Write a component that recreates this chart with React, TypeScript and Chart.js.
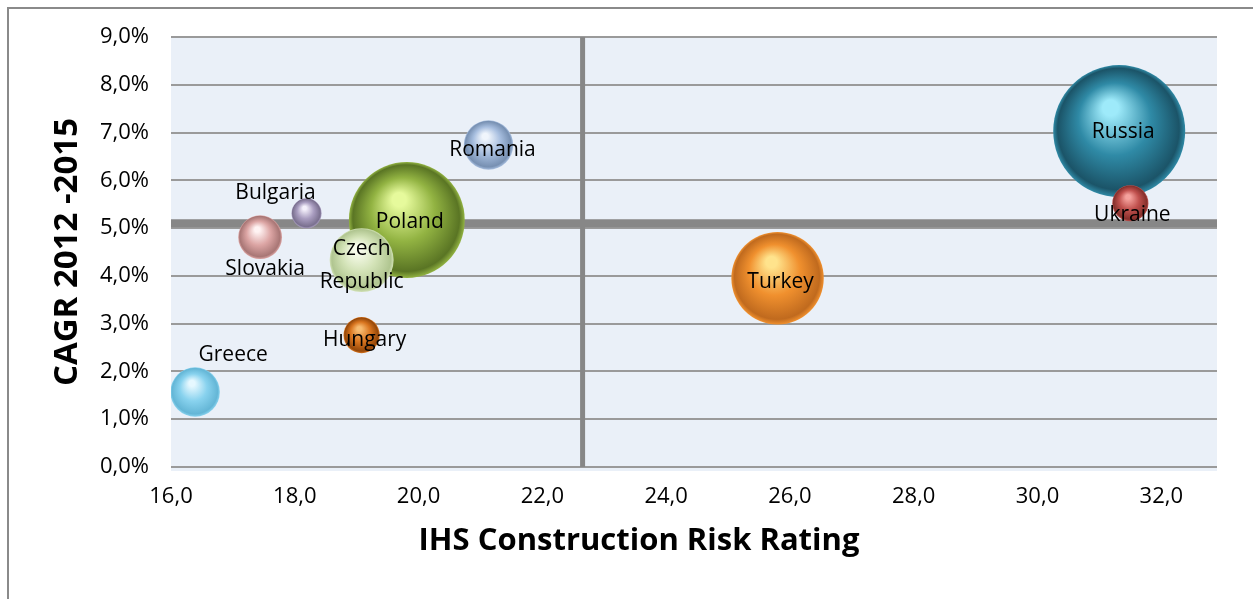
import React, { useEffect, useRef } from "react";
import { Chart, registerables } from "chart.js";

Chart.register(...registerables);

// ---- data ----
const countries = ["Russia", "Ukraine", "Turkey", "Poland", "Czech\nRepublic", "Slovakia", "Bulgaria", "Hungary", "Greece", "Romania"];
const riskRating = [31.32, 31.5, 25.8, 19.81, 19.08, 17.44, 18.19, 19.08, 16.39, 21.13];
const cagr = [7.03, 5.52, 3.95, 5.17, 4.33, 4.81, 5.31, 2.76, 1.57, 6.74];
const marketSize = [100, 7.5, 49, 77, 23.5, 11, 5.2, 7.5, 14, 14];
const riskThreshold = 22.65;
const cagrThreshold = 5.1;
const xTicks = [16, 18, 20, 22, 24, 26, 28, 30, 32];
const yTicks = [0, 1, 2, 3, 4, 5, 6, 7, 8, 9];
const xTitle = "IHS Construction Risk Rating";
const yTitle = "CAGR 2012 -2015";

// ---- styles ----
const palette = [
  { light: "#9eeafa", base: "#2f8aa6", dark: "#1b5468" },
  { light: "#f5a29d", base: "#c0504d", dark: "#85302c" },
  { light: "#ffe38c", base: "#f0902e", dark: "#c06a1e" },
  { light: "#e6fa9c", base: "#92b342", dark: "#5a7524" },
  { light: "#f8fcec", base: "#d2e2b6", dark: "#b0c590" },
  { light: "#fff3f3", base: "#dca5a4", dark: "#a87675" },
  { light: "#f4f0fb", base: "#a99dc0", dark: "#7a708f" },
  { light: "#f7bb70", base: "#d9751f", dark: "#95480a" },
  { light: "#e6f8ff", base: "#88d2ee", dark: "#64b6d6" },
  { light: "#f0f5fc", base: "#a7bedf", dark: "#7790b2" },
];
const labelOffsets = [
  [4, 1], [2, 12], [3, 4], [3, 2], [0, 5], [5, 32], [-31, -20], [3, 5], [38, -37], [4, 5],
];
const maxRadius = 66;
const radiusOf = (i: number) => maxRadius * Math.sqrt(marketSize[i] / 100);
const FONT = "'Open Sans', 'Noto Sans', sans-serif";

const bgPlugin = {
  id: "plotBg",
  beforeDraw(chart: any) {
    const { ctx, chartArea } = chart;
    ctx.save();
    ctx.fillStyle = "#eaf0f8";
    ctx.fillRect(chartArea.left, chartArea.top, chartArea.right - chartArea.left, chartArea.bottom - chartArea.top + 4);
    ctx.restore();
  },
};

const xTitlePlugin = {
  id: "xTitle",
  afterDraw(chart: any) {
    const { ctx } = chart;
    ctx.save();
    ctx.font = `bold 31px ${FONT}`;
    ctx.fillStyle = "#000";
    ctx.textAlign = "center";
    ctx.textBaseline = "middle";
    ctx.fillText(xTitle, 639, 541);
    ctx.restore();
  },
};

const labelPlugin = {
  id: "bubbleLabels",
  afterDatasetsDraw(chart: any) {
    const meta = chart.getDatasetMeta(2);
    const { ctx } = chart;
    ctx.save();
    ctx.font = `21px ${FONT}`;
    ctx.fillStyle = "#000";
    ctx.textAlign = "center";
    ctx.textBaseline = "middle";
    meta.data.forEach((el: any, i: number) => {
      const lines = countries[i].split("\n");
      const lh = 33;
      const cx = el.x + labelOffsets[i][0];
      const cy = el.y + labelOffsets[i][1];
      lines.forEach((ln, k) => {
        ctx.fillText(ln, cx, cy + (k - (lines.length - 1) / 2) * lh);
      });
    });
    ctx.restore();
  },
};

export default function App() {
  const ref = useRef<HTMLCanvasElement>(null);
  useEffect(() => {
    if (!ref.current) return;
    const chart = new Chart(ref.current, {
      type: "bubble",
      data: {
        datasets: [
          {
            type: "scatter" as any,
            data: [{ x: riskThreshold, y: 0 }, { x: riskThreshold, y: 9 }],
            showLine: true,
            borderColor: "#878787",
            borderWidth: 5,
            pointRadius: 0,
            order: 10,
          } as any,
          {
            type: "scatter" as any,
            data: [{ x: 16, y: cagrThreshold }, { x: 32.9, y: cagrThreshold }],
            showLine: true,
            borderColor: "#878787",
            borderWidth: 8,
            pointRadius: 0,
            order: 9,
          } as any,
          {
            data: countries.map((_, i) => ({ x: riskRating[i], y: cagr[i], r: radiusOf(i) })),
            borderWidth: 0,
            order: 0,
            backgroundColor: (c: any) => {
              const i = c.dataIndex ?? 0;
              const p = palette[i] || palette[0];
              const chart = c.chart;
              const xs = chart.scales?.x;
              const ys = chart.scales?.y;
              if (c.type !== "data" || !xs || !ys) return p.base;
              const cx = xs.getPixelForValue(riskRating[i]);
              const cy = ys.getPixelForValue(cagr[i]);
              const r = radiusOf(i);
              if (!isFinite(cx) || !isFinite(cy)) return p.base;
              const g = chart.ctx.createRadialGradient(cx - 0.15 * r, cy - 0.4 * r, 0, cx, cy, r);
              g.addColorStop(0, p.light);
              g.addColorStop(0.12, p.light);
              g.addColorStop(0.55, p.base);
              g.addColorStop(0.92, p.dark);
              g.addColorStop(1, p.base);
              return g;
            },
          } as any,
        ],
      },
      options: {
        animation: false,
        responsive: false,
        layout: { autoPadding: false, padding: { top: 37, right: 36, bottom: 0, left: 0 } },
        plugins: { legend: { display: false }, tooltip: { enabled: false } },
        scales: {
          x: {
            type: "linear",
            min: 16,
            max: 32.9,
            afterFit: (s: any) => {
              s.height = 132;
              s.paddingLeft = 0;
              s.paddingRight = 0;
            },
            afterBuildTicks: (s: any) => { s.ticks = xTicks.map((v) => ({ value: v })); },
            grid: { display: false, drawTicks: false },
            border: { display: false },
            ticks: {
              padding: 17,
              color: "#000",
              maxRotation: 0,
              font: { family: FONT, size: 22 },
              callback: (v: any) => Number(v).toFixed(1).replace(".", ","),
            },
            title: { display: false },
          },
          y: {
            type: "linear",
            min: 0,
            max: 9,
            afterFit: (s: any) => {
              s.width = 171;
              s.paddingTop = 0;
              s.paddingBottom = 0;
            },
            afterBuildTicks: (s: any) => { s.ticks = yTicks.map((v) => ({ value: v })); },
            grid: { color: "#9a9a9a", lineWidth: 2, drawTicks: false },
            border: { display: false },
            ticks: {
              padding: 22,
              color: "#000",
              font: { family: FONT, size: 22 },
              callback: (v: any) => Number(v).toFixed(1).replace(".", ",") + "%",
            },
            title: {
              display: true,
              text: yTitle,
              color: "#000",
              font: { family: FONT, size: 33, weight: "bold" },
              padding: { top: 48, bottom: 0 },
            },
          },
        },
      } as any,
      plugins: [bgPlugin, labelPlugin, xTitlePlugin],
    });
    chart.update();
    return () => chart.destroy();
  }, []);

  return (
    <div style={{ position: "fixed", left: 0, top: 0, width: 1253, height: 599, background: "#fff", overflow: "hidden" }}>
      <div
        style={{
          position: "absolute",
          left: 7,
          top: 7,
          width: 1300,
          height: 700,
          borderLeft: "2px solid #8a8a8a",
          borderTop: "2px solid #8a8a8a",
        }}
      />
      <canvas ref={ref} width={1253} height={599} style={{ position: "absolute", left: 0, top: 0 }} />
    </div>
  );
}
